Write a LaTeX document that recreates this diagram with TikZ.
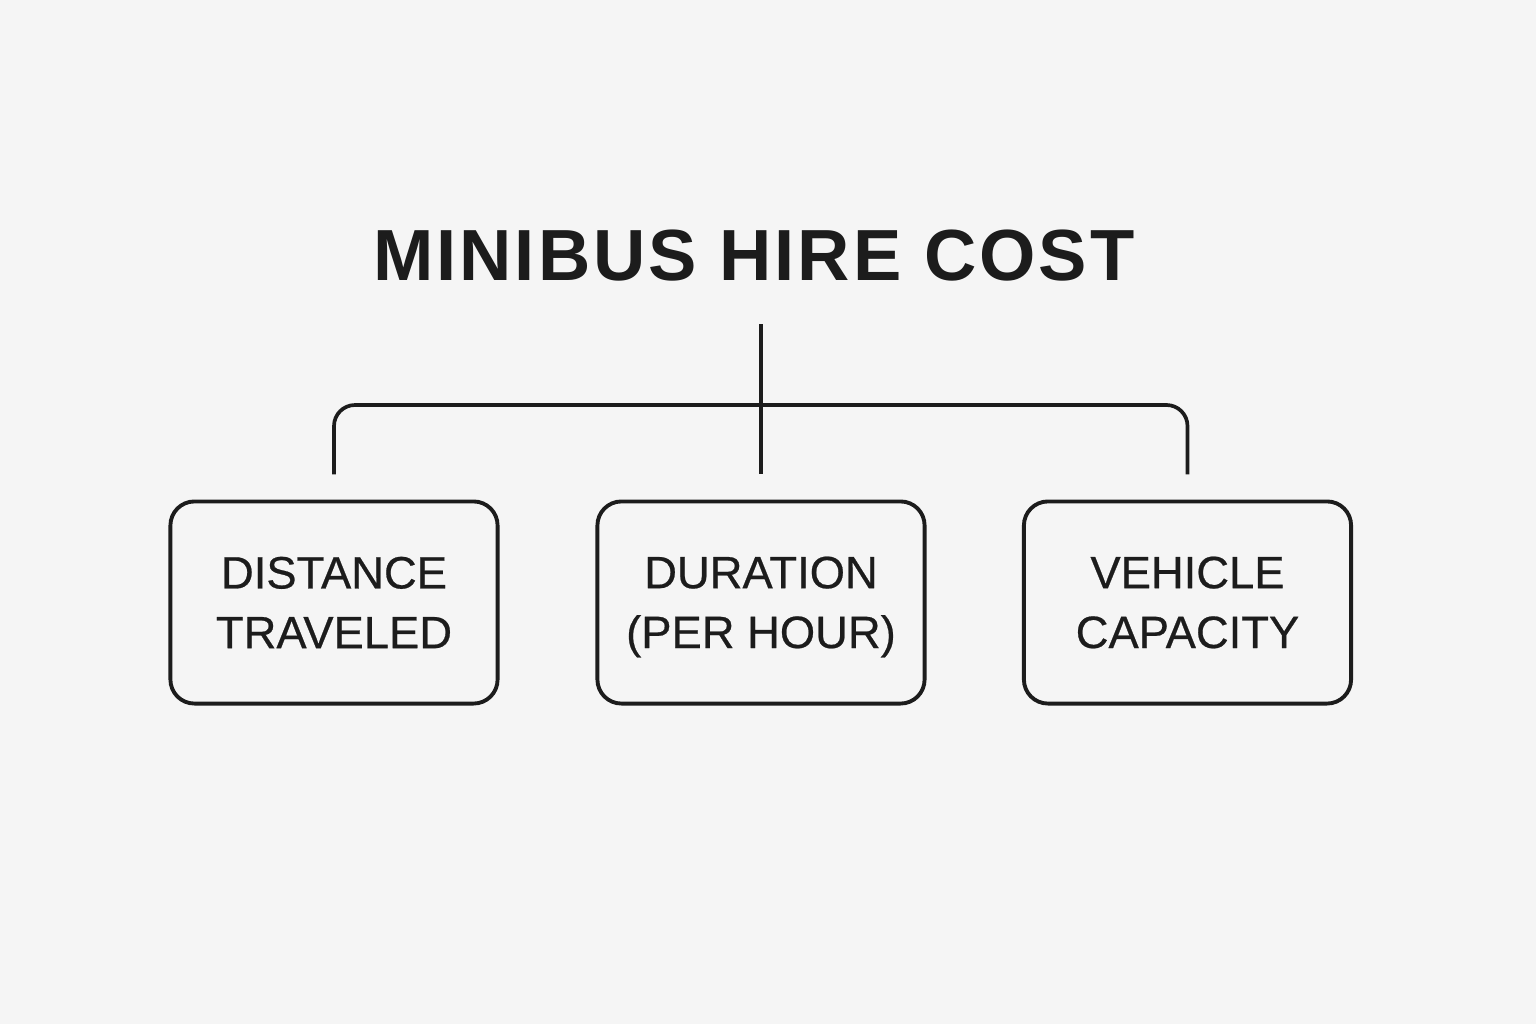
\documentclass[tikz,border=0pt]{standalone}
\usepackage{fontspec}
\setmainfont{Liberation Sans}
\usetikzlibrary{calc}
\definecolor{bg}{HTML}{F5F5F5}
\definecolor{ink}{HTML}{1C1C1C}
\begin{document}
\begin{tikzpicture}[x=0.01cm,y=-0.01cm,
  factorbox/.style={draw=ink,line width=1.1pt,rounded corners=0.24cm,
    minimum width=3.27cm,minimum height=2.02cm,inner sep=0pt,align=center,
    text=ink,font=\fontsize{12.9}{17}\selectfont\addfontfeatures{FakeBold=0.5}},
  link/.style={draw=ink,line width=1.05pt},
  titlestyle/.style={text=ink,inner sep=0pt,anchor=base,
    font=\fontsize{20.6}{25}\selectfont\bfseries\addfontfeatures{LetterSpace=4}}]
\fill[bg] (0,0) rectangle (1536,1024);
\useasboundingbox (0,0) rectangle (1536,1024);
\node[titlestyle] (title) at (754,280) {MINIBUS HIRE COST};
\node[factorbox] (b1) at (334,602.5) {DISTANCE\\TRAVELED};
\node[factorbox] (b2) at (761,602.5) {DURATION\\\smash{(}PER HOUR\smash{)}};
\node[factorbox] (b3) at (1187.5,602.5) {VEHICLE\\CAPACITY};
\coordinate (hub) at (761,324);
\coordinate (bar) at (761,405);
\draw[link] (hub) -- ([yshift=0.25cm]b2.north);
\draw[link,rounded corners=0.21cm] ([yshift=0.25cm]b1.north) -- (b1.north |- bar) -- (b3.north |- bar) -- ([yshift=0.25cm]b3.north);
\end{tikzpicture}
\end{document}
